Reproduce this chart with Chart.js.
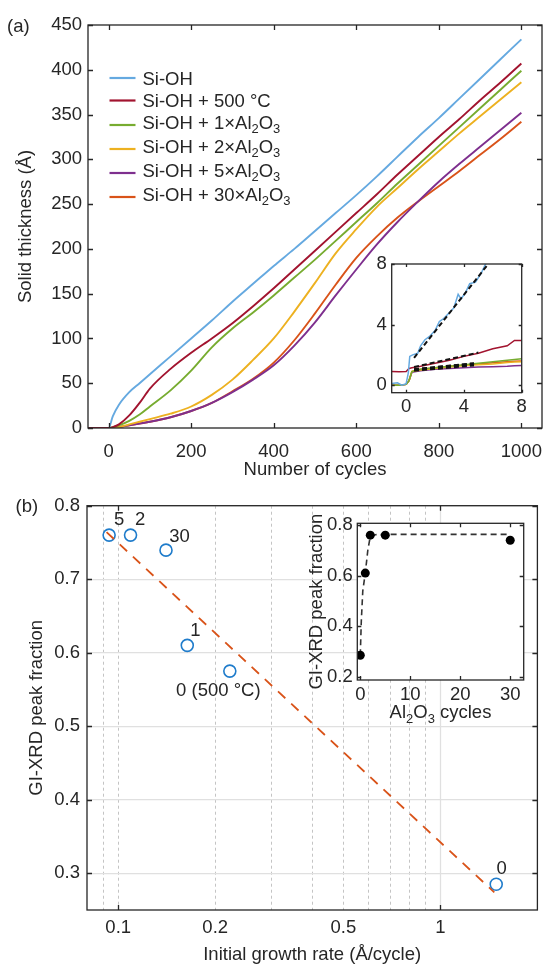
<!DOCTYPE html>
<html>
<head>
<meta charset="utf-8">
<script src="https://cdn.jsdelivr.net/npm/chart.js@4.4.0/dist/chart.umd.min.js"></script>
<style>
  html, body { margin: 0; padding: 0; background: #fff; }
  #wrap { position: relative; width: 545px; height: 964px; overflow: hidden; }
  canvas { position: absolute; }
</style>
</head>
<body>
<div id="wrap">
  <canvas id="chartA" width="545" height="490" style="left:0;top:0"></canvas>
  <canvas id="insetA" width="180" height="190" style="left:360px;top:245px"></canvas>
  <canvas id="chartB" width="545" height="490" style="left:0;top:480px"></canvas>
  <canvas id="insetB" width="250" height="230" style="left:290px;top:500px"></canvas>
</div>
<script>
// ================= DATA =================
// (a) solid thickness vs number of cycles
const seriesNames = ['Si-OH', 'Si-OH + 500 °C', 'Si-OH + 1×Al_2O_3', 'Si-OH + 2×Al_2O_3', 'Si-OH + 5×Al_2O_3', 'Si-OH + 30×Al_2O_3'];
const seriesColors = ['#65a9e0', '#a2142f', '#77ac30', '#edb120', '#7e2f8e', '#d95319'];
const cycles = [-50, 0, 10, 25, 50, 75, 100, 150, 200, 250, 300, 350, 400, 450, 500, 550, 600, 650, 700, 750, 800, 850, 900, 950, 1000];
const thickSiOH   = [0, 0, 13, 26, 40, 50, 60, 80, 100, 120, 141, 161, 181, 200, 220, 240, 260, 281, 303, 325, 346, 368, 390, 412, 434];
const thick500C   = [0, 0, 1, 4, 14, 28, 44, 66, 84, 100, 117, 136, 156, 177, 198, 219, 240, 261, 283, 304, 325, 345, 366, 386, 407];
const thick1Al    = [0, 0, 1, 3, 8, 15, 24, 42, 64, 90, 111, 129, 148, 168, 188, 209, 230, 251, 273, 294, 315, 336, 357, 378, 399];
const thick2Al    = [0, 0, 0, 1, 4, 7, 10, 16, 24, 37, 54, 76, 100, 130, 162, 195, 222, 247, 268, 289, 309, 329, 348, 367, 386];
const thick5Al    = [0, 0, 0, 1, 3, 5, 7, 12, 19, 28, 40, 54, 70, 92, 118, 148, 177, 205, 230, 253, 275, 295, 314, 333, 352];
const thick30Al   = [0, 0, 0, 1, 3, 5, 7, 12, 19, 28, 41, 55, 73, 98, 128, 160, 190, 214, 235, 253, 270, 287, 305, 323, 342];
const cycleTicks = [0, 200, 400, 600, 800, 1000];
const thickTicks = [0, 50, 100, 150, 200, 250, 300, 350, 400, 450];

// (a) inset: first cycles
const zoomBlueX = [-1, -0.6, -0.3, 0, 0.15, 0.25, 0.45, 0.8, 1.0, 1.3, 1.6, 2.0, 2.3, 2.6, 3.0, 3.3, 3.6, 3.8, 4.1, 4.4, 4.8, 5.2, 5.5, 5.8, 6.2];
const zoomBlueY = [0.1, 0.15, 0.0, 0.1, 0.8, 1.9, 2.0, 2.1, 2.6, 3.0, 3.2, 3.6, 4.2, 4.4, 4.8, 5.1, 6.0, 5.7, 6.1, 6.7, 6.8, 7.4, 8.0, 8.2, 8.2];
const zoomX = [-1, -0.5, 0, 0.2, 0.4, 1, 2, 3, 4, 5, 6, 7, 7.5, 8];
const zoom500C = [0.9, 0.88, 0.9, 1.1, 1.15, 1.25, 1.45, 1.65, 1.9, 2.1, 2.4, 2.6, 2.95, 2.95];
const zoom1Al  = [0, 0, 0.05, 0.3, 0.9, 1.05, 1.15, 1.25, 1.35, 1.45, 1.55, 1.65, 1.7, 1.75];
const zoom2Al  = [0, 0, 0.05, 0.3, 0.9, 1.0, 1.1, 1.2, 1.3, 1.35, 1.4, 1.5, 1.52, 1.55];
const zoom5Al  = [0, 0, 0.05, 0.3, 0.85, 0.95, 1.05, 1.1, 1.15, 1.2, 1.22, 1.25, 1.28, 1.3];
const zoom30Al = [0, 0, 0.05, 0.3, 0.9, 1.05, 1.15, 1.25, 1.32, 1.4, 1.48, 1.55, 1.58, 1.6];
// linear fits (start, end) drawn dashed black
const fitStartX = 0.55, fitEndX = [5.6, 5.0, 4.7, 4.7, 4.7, 4.7];
const fitStartY = [1.8, 1.2, 1.05, 1.0, 0.95, 1.05];
const fitEndY   = [7.9, 2.15, 1.45, 1.38, 1.3, 1.42];
const zoomTicks = [0, 4, 8];

// (b) GI-XRD peak fraction vs initial growth rate
const growthRate = [0.0937, 0.1092, 0.1407, 0.1638, 0.222, 1.49];
const peakFraction = [0.76, 0.76, 0.7395, 0.61, 0.575, 0.285];
const pointLabels = ['5', '2', '30', '1', '0 (500 °C)', '0'];
const trendRate = [0.092, 1.47];
const trendFrac = [0.764, 0.274];
const rateGrid = [0.09, 0.1, 0.2, 0.3, 0.4, 0.5, 0.6, 0.7, 0.8, 0.9, 1];
const rateLabels = { 0.1: '0.1', 0.2: '0.2', 0.5: '0.5', 1: '1' };
const fracTicks = [0.3, 0.4, 0.5, 0.6, 0.7, 0.8];

// (b) inset: peak fraction vs Al2O3 cycles
const alCycles = [0, 1, 2, 5, 30];
const alFrac = [0.285, 0.61, 0.76, 0.76, 0.74];
const satX = [0, 0.2, 0.5, 1, 1.5, 2, 3, 5, 30];
const satY = [0.285, 0.42, 0.54, 0.61, 0.7, 0.755, 0.762, 0.763, 0.763];
const alTicks = [0, 10, 20, 30];
const alFracTicks = [0.2, 0.4, 0.6, 0.8];

// ================= STYLE =================
const INK = '#262626';
const FONT = "'Liberation Sans', Arial, sans-serif";
const FS = 18.5;
Chart.defaults.font.family = FONT;
Chart.defaults.font.size = FS;
Chart.defaults.color = INK;
Chart.defaults.animation = false;
Chart.defaults.plugins.legend.display = false;
Chart.defaults.plugins.tooltip.enabled = false;

const pts = (xs, ys) => xs.map((x, i) => ({ x: x, y: ys[i] }));

// text with "_2" style subscripts
function drawRich(ctx, str, x, y, size, align) {
  const parts = [];
  str.split(/(_\d)/).forEach(s => {
    if (!s) return;
    parts.push(s[0] === '_' ? { t: s.slice(1), sub: true } : { t: s, sub: false });
  });
  let w = 0;
  parts.forEach(p => {
    ctx.font = (p.sub ? size * 0.7 : size) + 'px ' + FONT;
    p.w = ctx.measureText(p.t).width;
    w += p.w;
  });
  let cx = align === 'center' ? x - w / 2 : x;
  ctx.textAlign = 'left';
  ctx.textBaseline = 'alphabetic';
  parts.forEach(p => {
    ctx.font = (p.sub ? size * 0.7 : size) + 'px ' + FONT;
    ctx.fillText(p.t, cx, y + (p.sub ? size * 0.25 : 0));
    cx += p.w;
  });
}

// fixed axis boxes so the plot areas land where the figure has them
function fixBox(size) {
  return s => {
    if (s.isHorizontal()) s.height = size; else s.width = size;
    s.paddingLeft = s.paddingRight = s.paddingTop = s.paddingBottom = 0;
  };
}
const setTicks = vals => s => { s.ticks = vals.map(v => ({ value: v })); };

// box + inward tick marks on all four sides, white fill for insets
const framePlugin = {
  id: 'frame',
  beforeDraw(chart, args, opts) {
    if (!opts.fill) return;
    const a = chart.chartArea, ctx = chart.ctx;
    ctx.save();
    ctx.fillStyle = '#fff';
    ctx.fillRect(a.left, a.top, a.right - a.left, a.bottom - a.top);
    ctx.restore();
  },
  afterDatasetsDraw(chart, args, opts) {
    const { ctx, chartArea: a, scales } = chart;
    const len = opts.tickLength || 5;
    ctx.save();
    ctx.strokeStyle = INK;
    ctx.lineWidth = 1.3;
    ctx.beginPath();
    (opts.xTicks || []).forEach(v => {
      const px = Math.round(scales.x.getPixelForValue(v)) + 0.5;
      ctx.moveTo(px, a.bottom); ctx.lineTo(px, a.bottom - len);
      ctx.moveTo(px, a.top); ctx.lineTo(px, a.top + len);
    });
    (opts.yTicks || []).forEach(v => {
      const py = Math.round(scales.y.getPixelForValue(v)) + 0.5;
      ctx.moveTo(a.left, py); ctx.lineTo(a.left + len, py);
      ctx.moveTo(a.right, py); ctx.lineTo(a.right - len, py);
    });
    ctx.stroke();
    ctx.strokeRect(a.left, a.top, a.right - a.left, a.bottom - a.top);
    ctx.restore();
  }
};

// free text: panel letters, titles with subscripts, point labels, legend
const notesPlugin = {
  id: 'notes',
  afterDraw(chart, args, opts) {
    const ctx = chart.ctx;
    ctx.save();
    ctx.fillStyle = INK;
    (opts.texts || []).forEach(t => drawRich(ctx, t.text, t.x, t.y, FS, t.align || 'left'));
    if (opts.pointLabels) {
      const ds = chart.data.datasets[opts.pointLabels.dataset];
      ds.data.forEach((p, i) => {
        const px = chart.scales.x.getPixelForValue(p.x);
        const py = chart.scales.y.getPixelForValue(p.y);
        const o = opts.pointLabels.offsets[i];
        ctx.font = FS + 'px ' + FONT;
        ctx.textAlign = 'center';
        ctx.textBaseline = 'middle';
        ctx.fillText(opts.pointLabels.labels[i], px + o[0], py + o[1]);
      });
    }
    if (opts.legend) {
      const L = opts.legend;
      seriesNames.forEach((name, i) => {
        const y = L.rows[i];
        ctx.strokeStyle = seriesColors[i];
        ctx.lineWidth = 2.2;
        ctx.beginPath();
        ctx.moveTo(L.x0, y); ctx.lineTo(L.x1, y);
        ctx.stroke();
        const shift = name.indexOf('_') >= 0 ? -3 : 0;
        drawRich(ctx, name, L.tx, y + shift + FS * 0.36, FS, 'left');
      });
    }
    ctx.restore();
  }
};

function axis(min, max, ticks, box, pad, extra) {
  return Object.assign({
    type: 'linear', min: min, max: max,
    afterBuildTicks: setTicks(ticks),
    afterFit: fixBox(box),
    grid: { display: false, drawTicks: false },
    border: { display: false },
    ticks: { padding: pad, autoSkip: false, maxRotation: 0, callback: v => String(v) }
  }, extra || {});
}

// ================= (a) MAIN =================
const thickSeries = [thickSiOH, thick500C, thick1Al, thick2Al, thick5Al, thick30Al];
new Chart(document.getElementById('chartA'), {
  type: 'line',
  data: {
    datasets: thickSeries.map((vals, i) => ({
      label: seriesNames[i],
      data: pts(cycles, vals),
      borderColor: seriesColors[i],
      borderWidth: 1.9,
      pointRadius: 0,
      cubicInterpolationMode: 'monotone',
      order: i === 1 ? -1 : i
    }))
  },
  options: {
    responsive: false,
    layout: { padding: { left: 15, top: 25, right: 3, bottom: 9 } },
    scales: {
      x: axis(-50, 1050, cycleTicks, 53, 13, { title: { display: true, text: 'Number of cycles', padding: 0 } }),
      y: axis(0, 450, thickTicks, 73, 6, { title: { display: true, text: 'Solid thickness (Å)', padding: 0 } })
    },
    plugins: {
      frame: { xTicks: cycleTicks, yTicks: thickTicks, tickLength: 5 },
      notes: {
        texts: [{ text: '(a)', x: 7, y: 32 }],
        legend: { x0: 109.5, x1: 135.5, tx: 142.5, rows: [78, 100.5, 125, 149, 173, 197] }
      }
    }
  },
  plugins: [framePlugin, notesPlugin]
});

// ================= (a) INSET =================
const zoomSeries = [zoom500C, zoom1Al, zoom2Al, zoom5Al, zoom30Al];
const insetADatasets = [{
  data: pts(zoomBlueX, zoomBlueY), borderColor: seriesColors[0], borderWidth: 1.5, pointRadius: 0, order: 5
}].concat(zoomSeries.map((vals, i) => ({
  data: pts(zoomX, vals), borderColor: seriesColors[i + 1], borderWidth: 1.5, pointRadius: 0, order: 5
}))).concat(fitStartY.map((y0, i) => ({
  data: [{ x: fitStartX, y: y0 }, { x: fitEndX[i], y: fitEndY[i] }],
  borderColor: '#111', borderWidth: 2, borderDash: [5, 3], pointRadius: 0, order: 0
})));
new Chart(document.getElementById('insetA'), {
  type: 'line',
  data: { datasets: insetADatasets },
  options: {
    responsive: false,
    layout: { padding: { left: 0, top: 19, right: 18.3, bottom: 12.3 } },
    scales: {
      x: axis(-1, 8, zoomTicks, 30, 3),
      y: axis(-0.5, 8, zoomTicks, 31.7, 5)
    },
    plugins: { frame: { fill: true, xTicks: zoomTicks, yTicks: zoomTicks, tickLength: 3 } }
  },
  plugins: [framePlugin]
});

// ================= (b) MAIN =================
new Chart(document.getElementById('chartB'), {
  type: 'line',
  data: {
    datasets: [{
      data: pts(trendRate, trendFrac),
      borderColor: '#d95319', borderWidth: 1.8, borderDash: [10, 8], pointRadius: 0, order: 0
    }, {
      data: pts(growthRate, peakFraction),
      showLine: false, pointRadius: 6, pointBorderWidth: 1.6,
      pointBorderColor: '#1f7ccb', pointBackgroundColor: 'rgba(0,0,0,0)', order: 1
    }]
  },
  options: {
    responsive: false,
    layout: { padding: { left: 25.4, top: 25.7, right: 2.3, bottom: 4 } },
    scales: {
      x: {
        type: 'logarithmic', min: 0.08, max: 2,
        afterBuildTicks: setTicks(rateGrid),
        afterFit: fixBox(56),
        grid: { display: true, drawTicks: false, color: '#c4c4c4', lineWidth: 1 },
        border: { display: false, dash: [3, 3] },
        ticks: { padding: 7, autoSkip: false, maxRotation: 0, callback: v => rateLabels[v] || '' },
        title: { display: true, text: 'Initial growth rate (Å/cycle)', padding: 0 }
      },
      y: axis(0.25, 0.8, fracTicks, 61.6, 7, {
        grid: { display: true, drawTicks: false, color: '#e0e0e0', lineWidth: 1.3 },
        title: { display: true, text: 'GI-XRD peak fraction', padding: 0 }
      })
    },
    plugins: {
      frame: { xTicks: [0.1, 1], yTicks: fracTicks, tickLength: 5 },
      notes: {
        texts: [{ text: '(b)', x: 15.5, y: 31.5 }],
        pointLabels: {
          dataset: 1, labels: pointLabels,
          offsets: [[10, -15], [9.5, -15], [13.5, -13.5], [8, -14], [-11.5, 20], [5.5, -15]]
        }
      }
    }
  },
  plugins: [{
    id: 'majorGrid',
    beforeDatasetsDraw(chart) {
      const { ctx, chartArea: a, scales } = chart;
      const px = Math.round(scales.x.getPixelForValue(1)) + 0.5;
      ctx.save();
      ctx.strokeStyle = '#e0e0e0';
      ctx.lineWidth = 1.3;
      ctx.beginPath();
      ctx.moveTo(px, a.top); ctx.lineTo(px, a.bottom);
      ctx.stroke();
      ctx.restore();
    }
  }, framePlugin, notesPlugin]
});

// ================= (b) INSET =================
new Chart(document.getElementById('insetB'), {
  type: 'line',
  data: {
    datasets: [{
      data: pts(satX, satY),
      borderColor: '#333', borderWidth: 1.6, borderDash: [6, 4], pointRadius: 0, order: 1
    }, {
      data: pts(alCycles, alFrac),
      showLine: false, pointRadius: 4.5, pointBorderWidth: 0,
      pointBackgroundColor: '#000', order: 0
    }]
  },
  options: {
    responsive: false,
    layout: { padding: { left: 15.9, top: 23.3, right: 16.3, bottom: 5 } },
    scales: {
      x: axis(-0.6, 32.7, alTicks, 45, 3.9),
      y: axis(0.187, 0.807, alFracTicks, 51.4, 4.5, {
        title: { display: true, text: 'GI-XRD peak fraction', padding: 0 }
      })
    },
    plugins: {
      frame: { fill: true, xTicks: alTicks, yTicks: alFracTicks, tickLength: 4 },
      notes: { texts: [{ text: 'Al_2O_3 cycles', x: 150.5, y: 218.3, align: 'center' }] }
    }
  },
  plugins: [framePlugin, notesPlugin]
});
</script>
</body>
</html>
